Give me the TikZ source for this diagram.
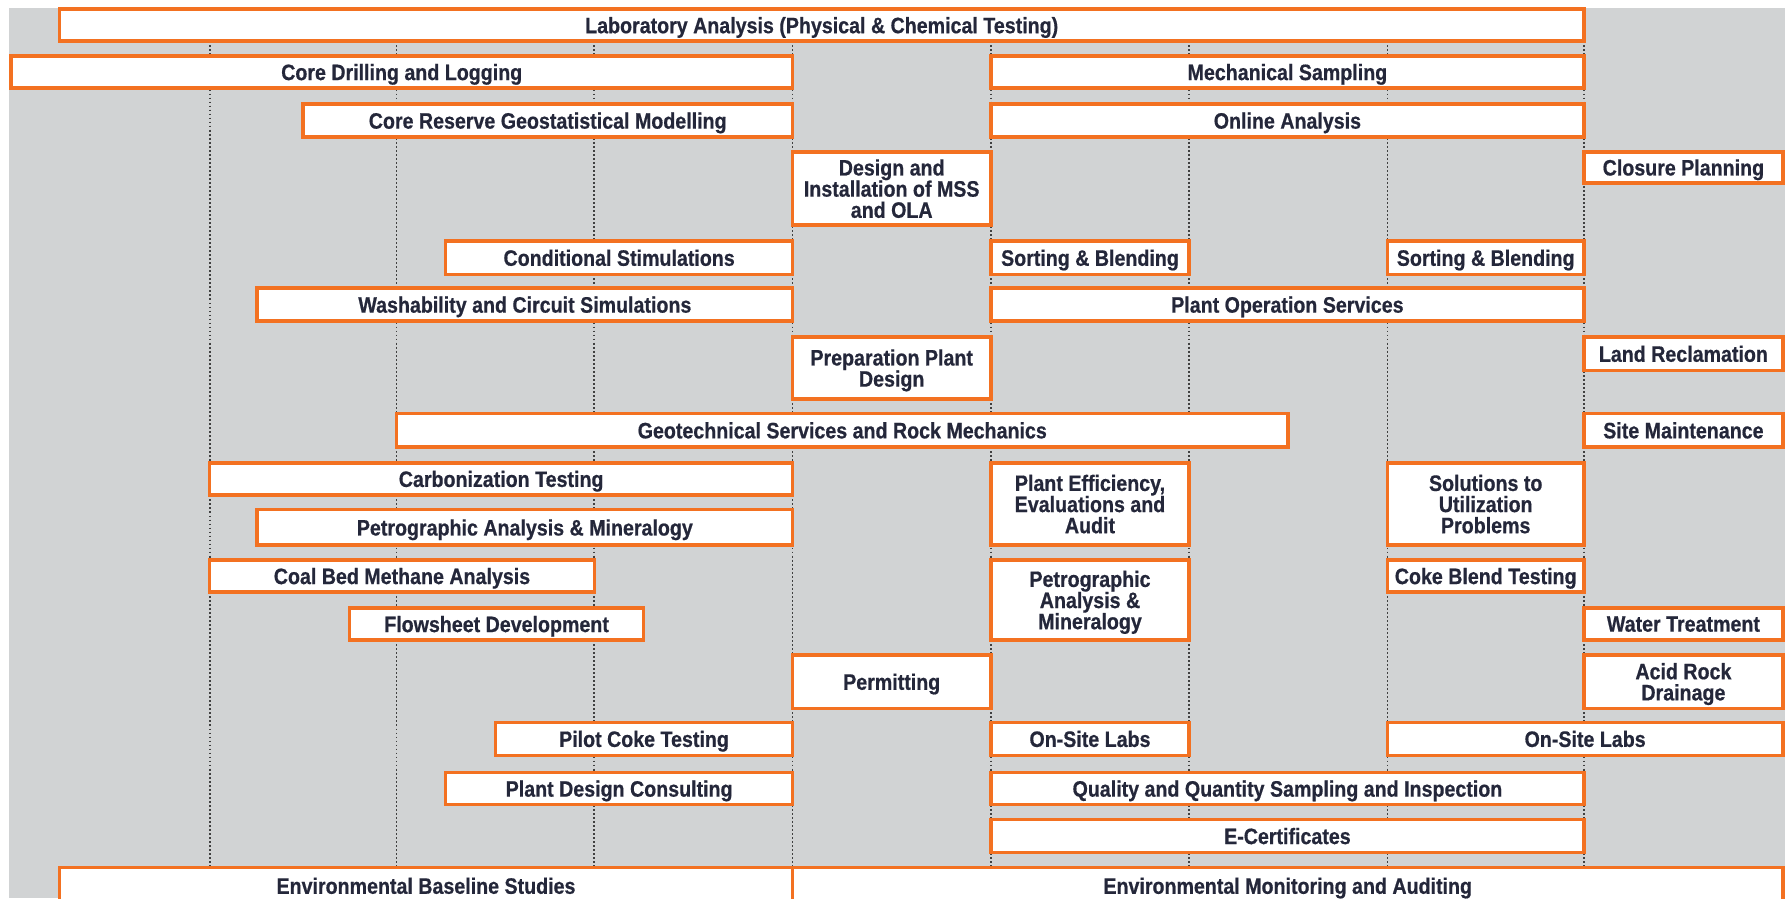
\documentclass[tikz,border=0pt]{standalone}
\usepackage{fontspec}
\setmainfont{Liberation Sans}[FakeStretch=0.88,BoldFeatures={FakeBold=0.6}]
\usepackage{tikz}

\definecolor{svcorange}{RGB}{243,113,33}
\definecolor{svcgray}{RGB}{209,211,212}
\definecolor{svcink}{RGB}{36,39,58}

\newcommand{\svcbar}[6]{%
  \node[svc, minimum width={(#3-#2)*0.01cm}, minimum height={(#5-#4)*0.01cm}]
    (#1) at ({(#2+#3)/2},{(#4+#5)/2}) {#6};}

\begin{document}
\begin{tikzpicture}[x=0.01cm, y=-0.01cm,
    svc/.style={draw=svcorange, line width=0.85pt, fill=white, text=svcink,
      font=\bfseries\fontsize{5.55}{5.26}\selectfont, align=center,
      text depth=0pt, inner sep=0pt, outer sep=0pt},
    gridline/.style={draw=black!75, line width=0.45pt, dash pattern=on 0.45pt off 0.55pt}]
                            \useasboundingbox (0,0) rectangle (1568,786);
                            \fill[svcgray] (8,7) rectangle (1562,786);
                            \foreach \gx [count=\gi] in {183.5,347,520,693.5,867,1040.5,1214,1386}{
                              \coordinate (gt\gi) at (\gx,8);
                              \coordinate (gb\gi) at (\gx,786);
                              \draw[gridline] (gt\gi) -- (gb\gi);
                            }
                            \svcbar{lab}{52}{1386}{8}{36}{Laboratory Analysis (Physical \& Chemical Testing)}
                            \svcbar{drill}{9.5}{693.5}{49}{77}{Core Drilling and Logging}
                            \svcbar{mechs}{867}{1386}{49}{77}{Mechanical Sampling}
                            \svcbar{geomod}{265}{693.5}{91}{120}{Core Reserve Geostatistical Modelling}
                            \svcbar{online}{867}{1386}{91}{120}{Online Analysis}
                            \svcbar{mssola}{693.5}{867}{133}{197}{Design and\\Installation of MSS\\and OLA}
                            \svcbar{closure}{1386}{1560}{133}{160}{Closure Planning}
                            \svcbar{condsim}{390}{693.5}{211}{240}{Conditional Stimulations}
                            \svcbar{sortA}{867}{1040.5}{211}{240}{Sorting \& Blending}
                            \svcbar{sortB}{1214}{1386}{211}{240}{Sorting \& Blending}
                            \svcbar{washsim}{225}{693.5}{252}{281}{Washability and Circuit Simulations}
                            \svcbar{plantops}{867}{1386}{252}{281}{Plant Operation Services}
                            \svcbar{prepdes}{693.5}{867}{295}{349}{Preparation Plant\\Design}
                            \svcbar{landrec}{1386}{1560}{295}{324}{Land Reclamation}
                            \svcbar{geotech}{347}{1127}{362}{391}{Geotechnical Services and Rock Mechanics}
                            \svcbar{sitemaint}{1386}{1560}{362}{391}{Site Maintenance}
                            \svcbar{carbon}{183.5}{693.5}{405}{433}{Carbonization Testing}
                            \svcbar{effaudit}{867}{1040.5}{405}{477}{Plant Efficiency,\\Evaluations and\\Audit}
                            \svcbar{utilprob}{1214}{1386}{405}{477}{Solutions to\\Utilization\\Problems}
                            \svcbar{petroA}{225}{693.5}{446}{477}{Petrographic Analysis \& Mineralogy}
                            \svcbar{cbm}{183.5}{520}{490}{518}{Coal Bed Methane Analysis}
                            \svcbar{cokeblend}{1214}{1386}{490}{518}{Coke Blend Testing}
                            \svcbar{petroB}{867}{1040.5}{490}{560}{Petrographic\\Analysis \&\\Mineralogy}
                            \svcbar{flowsheet}{306}{563}{532}{560}{Flowsheet Development}
                            \svcbar{water}{1386}{1560}{532}{560}{Water Treatment}
                            \svcbar{permit}{693.5}{867}{573}{620}{Permitting}
                            \svcbar{acidrock}{1386}{1560}{573}{620}{Acid Rock\\Drainage}
                            \svcbar{pilotcoke}{433.5}{693.5}{632}{661}{Pilot Coke Testing}
                            \svcbar{labsA}{867}{1040.5}{632}{661}{On-Site Labs}
                            \svcbar{labsB}{1214}{1560}{632}{661}{On-Site Labs}
                            \svcbar{plantcons}{390}{693.5}{676}{704}{Plant Design Consulting}
                            \svcbar{qqsi}{867}{1386}{676}{704}{Quality and Quantity Sampling and Inspection}
                            \svcbar{ecert}{867}{1386}{717}{746}{E-Certificates}
                            \svcbar{envbase}{52}{693.5}{759}{791}{Environmental Baseline Studies}
                            \svcbar{envmon}{693.5}{1560}{759}{791}{Environmental Monitoring and Auditing}
                        \end{tikzpicture}
\end{document}
